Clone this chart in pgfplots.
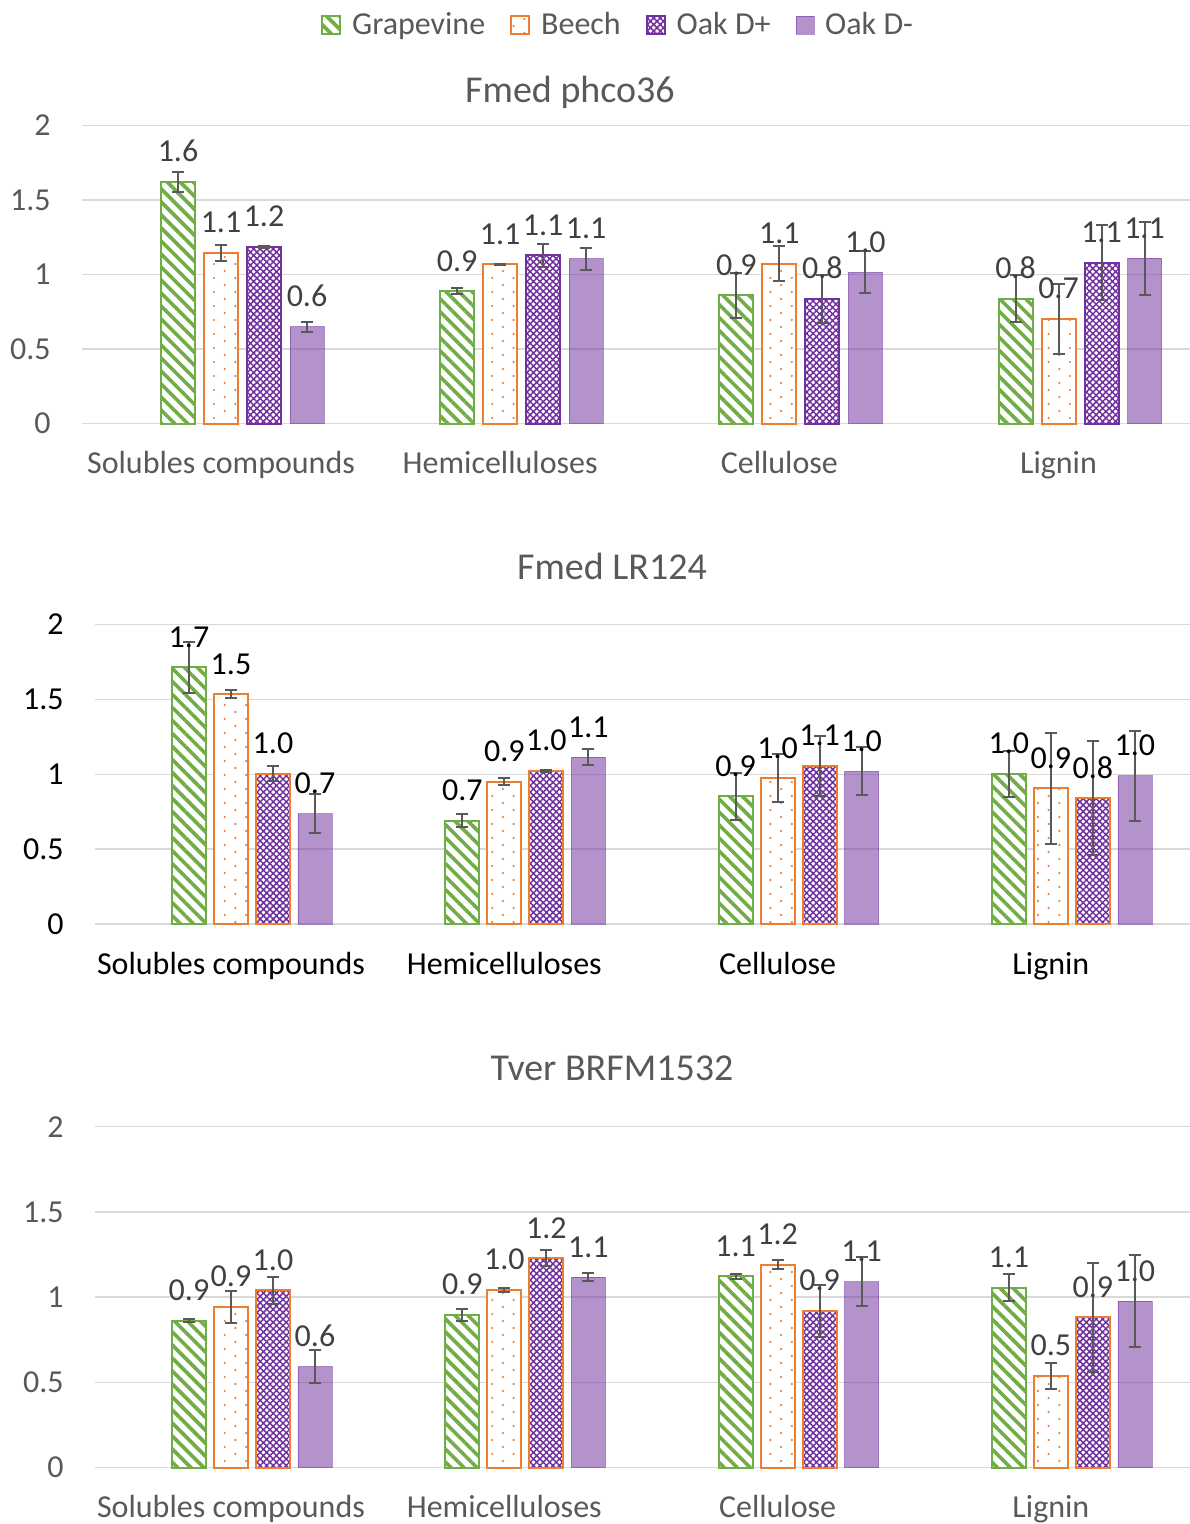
\documentclass[border=0pt]{standalone}
\usepackage{fontspec}
\setmainfont{Carlito}
\usepackage{pgfplots}
\pgfplotsset{compat=1.18}
\usepackage{pgfplotstable}
\usetikzlibrary{patterns,patterns.meta}

\definecolor{cgreen}{HTML}{70AD47}
\definecolor{corange}{HTML}{ED7D31}
\definecolor{cpurple}{HTML}{7030A0}
\definecolor{cgrid}{HTML}{D9D9D9}
\definecolor{ctext}{HTML}{595959}
\definecolor{clabel}{HTML}{404040}
\definecolor{cerr}{HTML}{595959}

\newcommand{\fs}{\fontsize{16bp}{19bp}\selectfont}
\newcommand{\ft}{\fontsize{19bp}{23bp}\selectfont}

\pgfdeclarepatternformonly{beechdots}{\pgfqpoint{-1bp}{-1bp}}{\pgfqpoint{11bp}{8bp}}{\pgfqpoint{10.7bp}{7bp}}{%
\pgfpathcircle{\pgfqpoint{0bp}{0bp}}{0.6bp}%
\pgfpathcircle{\pgfqpoint{5.35bp}{3.5bp}}{0.6bp}%
\pgfusepath{fill}}

\pgfplotstableread{
x g ge b be p pe m me gl bl pl ml
0 1.623 0.067 1.145 0.056 1.185 0.005 0.650 0.034 1.6 1.1 1.2 0.6
1 0.889 0.018 1.068 0.003 1.128 0.075 1.106 0.073 0.9 1.1 1.1 1.1
2 0.860 0.150 1.072 0.116 0.836 0.160 1.015 0.142 0.9 1.1 0.8 1.0
3 0.836 0.158 0.703 0.236 1.079 0.250 1.110 0.245 0.8 0.7 1.1 1.1
}\tabA
\pgfplotstableread{
x g ge b be p pe m me gl bl pl ml
0 1.715 0.170 1.533 0.027 1.005 0.053 0.736 0.130 1.7 1.5 1.0 0.7
1 0.690 0.042 0.950 0.022 1.023 0.005 1.115 0.055 0.7 0.9 1.0 1.1
2 0.852 0.156 0.975 0.157 1.057 0.200 1.020 0.160 0.9 1.0 1.1 1.0
3 1.003 0.153 0.907 0.370 0.840 0.380 0.990 0.300 1.0 0.9 0.8 1.0
}\tabB
\pgfplotstableread{
x g ge b be p pe m me gl bl pl ml
0 0.862 0.010 0.944 0.094 1.039 0.082 0.592 0.095 0.9 0.9 1.0 0.6
1 0.896 0.037 1.043 0.013 1.229 0.049 1.118 0.026 0.9 1.0 1.2 1.1
2 1.121 0.015 1.190 0.025 0.919 0.153 1.090 0.143 1.1 1.2 0.9 1.1
3 1.055 0.079 0.538 0.075 0.881 0.320 0.977 0.270 1.1 0.5 0.9 1.0
}\tabC

\pgfplotsset{
  panel/.style={
    ybar, scale only axis, clip=false,
    ymin=0, ymax=2, ytick={0,0.5,1,1.5,2}, yticklabels={0,0.5,1,1.5,2},
    xtick={0,1,2,3},
    xticklabels={Solubles compounds,Hemicelluloses,Cellulose,Lignin},
    ymajorgrids, grid style={cgrid, line width=0.75bp},
    axis line style={draw=none}, major tick length=0pt,
    bar width=17bp,
    yticklabel style={anchor=east, inner sep=0pt, xshift=-15.5bp, font=\fs, text=ctext},
    xticklabel style={anchor=base, inner sep=0pt, yshift=-25bp, font=\fs, text=ctext},
    point meta=explicit symbolic,
    nodes near coords={\pgfplotspointmeta},
    nodes near coords style={anchor=base, inner sep=0pt, yshift=10bp, font=\fs, text=clabel, text opacity=1, fill opacity=1},
    /pgfplots/error bars/y dir=both,
    /pgfplots/error bars/y explicit,
    /pgfplots/error bars/error mark=-,
    /pgfplots/error bars/error bar style={cerr, line width=1bp, draw opacity=1},
    /pgfplots/error bars/error mark options={cerr, line width=1bp, mark size=3bp, rotate=90, draw opacity=1},
    legend image code/.code={\draw[##1] (0bp,-4.5bp) rectangle (9bp,4.5bp);},
  },
  sgrape/.style={draw=cgreen, line width=1bp, preaction={fill=white},
    pattern={Lines[angle=-45,distance=4.6bp,line width=1.8bp]}, pattern color=cgreen},
  sbeech/.style={draw=corange, line width=1bp, preaction={fill=white},
    pattern=beechdots, pattern color=corange},
  soakp/.style={draw=#1, line width=1bp, preaction={fill=white},
    pattern={Hatch[angle=45,distance=2.3bp,line width=0.75bp]}, pattern color=cpurple},
  soakm/.style={draw=cpurple, draw opacity=0.52, line width=0.3bp, fill=cpurple, fill opacity=0.52},
}

\begin{document}
\begin{tikzpicture}
\useasboundingbox (0,0) rectangle (595bp,-762bp);

% Panel 1
\begin{axis}[panel, at={(41bp,-211.75bp)}, anchor=south west,
  width=554bp, height=149bp, xmin=-0.498, xmax=3.471,
  legend style={at={(0.4847,1.337)}, anchor=center, draw=none, fill=none,
    font=\fs, text=ctext, legend columns=4, inner sep=0pt,
    /tikz/every even column/.append style={column sep=10.5bp}},
  legend cell align=left]
\addplot[sgrape, bar shift=-21.5bp] table[x=x,y=g,y error=ge,meta=gl]{\tabA};
\addplot[sbeech, bar shift=0bp] table[x=x,y=b,y error=be,meta=bl]{\tabA};
\addplot[soakp=cpurple, bar shift=21.5bp] table[x=x,y=p,y error=pe,meta=pl]{\tabA};
\addplot[soakm, bar shift=43bp] table[x=x,y=m,y error=me,meta=ml]{\tabA};
\legend{\hspace{3.5bp}Grapevine,\hspace{3.5bp}Beech,\hspace{3.5bp}Oak D+,\hspace{3.5bp}Oak D-}
\end{axis}

% Panel 2
\begin{axis}[panel, at={(47.5bp,-462bp)}, anchor=south west,
  width=547.5bp, height=149.75bp, xmin=-0.4976, xmax=3.509,
  yticklabel style={text=black}, xticklabel style={text=black},
  nodes near coords style={text=black}]
\addplot[sgrape, bar shift=-21bp] table[x=x,y=g,y error=ge,meta=gl]{\tabB};
\addplot[sbeech, bar shift=0bp] table[x=x,y=b,y error=be,meta=bl]{\tabB};
\addplot[soakp=corange, bar shift=21bp] table[x=x,y=p,y error=pe,meta=pl]{\tabB};
\addplot[soakm, bar shift=42bp] table[x=x,y=m,y error=me,meta=ml]{\tabB};
\end{axis}

% Panel 3
\begin{axis}[panel, at={(47.5bp,-733.75bp)}, anchor=south west,
  width=547.5bp, height=170.4bp, xmin=-0.4976, xmax=3.509]
\addplot[sgrape, bar shift=-21bp] table[x=x,y=g,y error=ge,meta=gl]{\tabC};
\addplot[sbeech, bar shift=0bp] table[x=x,y=b,y error=be,meta=bl]{\tabC};
\addplot[soakp=corange, bar shift=21bp] table[x=x,y=p,y error=pe,meta=pl]{\tabC};
\addplot[soakm, bar shift=42bp] table[x=x,y=m,y error=me,meta=ml]{\tabC};
\end{axis}

\node[font=\ft, text=ctext] at (285bp,-46bp) {Fmed phco36};
\node[font=\ft, text=ctext] at (306bp,-283bp) {Fmed LR124};
\node[font=\ft, text=ctext] at (306bp,-534bp) {Tver BRFM1532};
\end{tikzpicture}
\end{document}
